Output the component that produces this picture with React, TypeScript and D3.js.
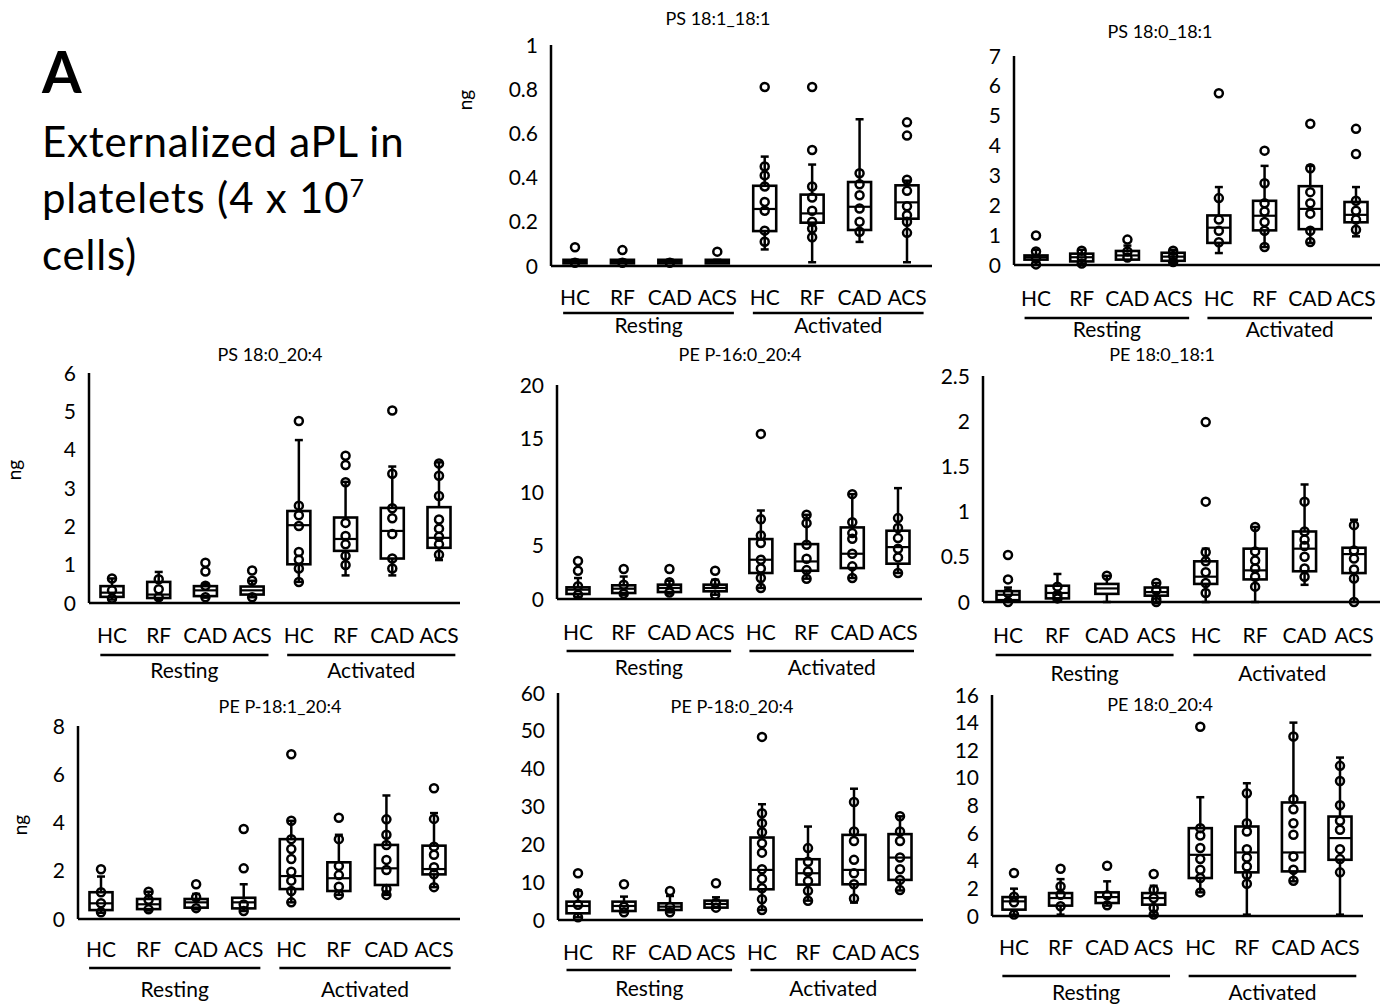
import React from "react";
import * as d3 from "d3";

const categories = ["HC", "RF", "CAD", "ACS"];
const groups = ["Resting", "Activated"];
const slots = groups.flatMap((g) => categories.map((c) => g + "-" + c));

// [low whisker, q1, median, q3, high whisker] per slot, then the plotted dots
const ps181_181Box = [
  [0.015, 0.012, 0.02, 0.028, 0.028], [0.015, 0.012, 0.02, 0.028, 0.028],
  [0.015, 0.012, 0.02, 0.028, 0.028], [0.015, 0.012, 0.02, 0.028, 0.028],
  [0.075, 0.158, 0.258, 0.363, 0.495], [0.017, 0.196, 0.238, 0.323, 0.459],
  [0.109, 0.163, 0.268, 0.38, 0.664], [0.017, 0.214, 0.288, 0.365, 0.386],
];
const ps181_181Pts = [
  [0.085, 0.015], [0.072, 0.015], [0.015], [0.065],
  [0.81, 0.45, 0.41, 0.36, 0.29, 0.25, 0.16, 0.11],
  [0.81, 0.525, 0.36, 0.31, 0.25, 0.2, 0.17, 0.13],
  [0.42, 0.37, 0.32, 0.26, 0.2, 0.155],
  [0.65, 0.59, 0.39, 0.34, 0.27, 0.23, 0.2, 0.15],
];

const ps180_181Box = [
  [0.0, 0.18, 0.26, 0.32, 0.51], [0.03, 0.12, 0.26, 0.38, 0.51],
  [0.18, 0.18, 0.32, 0.47, 0.65], [0.07, 0.14, 0.28, 0.41, 0.51],
  [0.4, 0.74, 1.25, 1.66, 2.61], [0.6, 1.16, 1.65, 2.15, 3.32],
  [0.74, 1.2, 1.88, 2.64, 3.32], [0.96, 1.43, 1.68, 2.11, 2.61],
];
const ps180_181Pts = [
  [0.99, 0.45, 0.22, 0.02], [0.48, 0.25, 0.05], [0.85, 0.45, 0.25], [0.48, 0.3, 0.1],
  [5.75, 2.24, 1.52, 1.15, 0.76],
  [3.83, 2.74, 2.07, 1.79, 1.44, 1.15, 0.6],
  [4.73, 3.24, 2.44, 2.07, 1.72, 1.15, 0.77],
  [4.56, 3.72, 2.15, 1.82, 1.52, 1.18],
];

const ps180_204Box = [
  [0.09, 0.16, 0.27, 0.44, 0.64], [0.09, 0.13, 0.22, 0.55, 0.81],
  [0.14, 0.18, 0.33, 0.44, 0.5], [0.15, 0.22, 0.33, 0.43, 0.58],
  [0.55, 1.01, 2.03, 2.4, 4.25], [0.72, 1.36, 1.67, 2.23, 3.16],
  [0.72, 1.16, 1.88, 2.48, 3.56], [1.12, 1.44, 1.7, 2.5, 3.67],
];
const ps180_204Pts = [
  [0.64, 0.33, 0.12], [0.62, 0.36, 0.15], [1.05, 0.82, 0.45, 0.15], [0.85, 0.58, 0.15],
  [4.75, 2.54, 2.29, 2.01, 1.33, 1.13, 0.9, 0.55],
  [3.84, 3.6, 3.15, 2.09, 1.75, 1.53, 1.23, 0.99],
  [5.02, 3.37, 2.47, 2.21, 1.8, 1.16, 0.9],
  [3.64, 3.32, 2.79, 2.18, 1.94, 1.73, 1.53, 1.26],
];

const peP160_204Box = [
  [0.2, 0.47, 0.87, 1.09, 1.96], [0.4, 0.56, 0.96, 1.28, 2.1],
  [0.5, 0.65, 1.03, 1.34, 1.71], [0.4, 0.72, 1.03, 1.34, 1.8],
  [1.03, 2.43, 3.67, 5.6, 8.27], [1.9, 2.64, 3.51, 5.13, 7.87],
  [1.96, 2.89, 4.23, 6.69, 9.8], [2.43, 3.3, 4.85, 6.38, 10.36],
];
const peP160_204Pts = [
  [3.55, 2.64, 1.2, 0.4], [2.8, 1.34, 0.5], [2.8, 1.56, 0.6], [2.64, 1.5, 0.4],
  [15.43, 7.46, 5.94, 5.23, 3.67, 2.86, 1.96, 1.03],
  [7.87, 7.09, 5.07, 3.76, 2.7, 1.9],
  [9.8, 7.18, 6.16, 5.63, 4.23, 3.05, 1.96],
  [7.56, 6.63, 5.69, 4.7, 3.89, 2.43],
];

const pe180_181Box = [
  [0.0, 0.02, 0.08, 0.12, 0.16], [0.02, 0.04, 0.1, 0.18, 0.31],
  [0.0, 0.09, 0.15, 0.2, 0.29], [0.0, 0.07, 0.11, 0.16, 0.21],
  [0.0, 0.2, 0.28, 0.45, 0.59], [0.0, 0.25, 0.35, 0.59, 0.83],
  [0.19, 0.34, 0.59, 0.78, 1.3], [0.0, 0.32, 0.53, 0.6, 0.91],
];
const pe180_181Pts = [
  [0.52, 0.25, 0.1, 0.0], [0.17, 0.08, 0.04], [0.29], [0.21, 0.13, 0.03, 0.0],
  [1.99, 1.11, 0.55, 0.45, 0.33, 0.21, 0.1],
  [0.83, 0.56, 0.46, 0.37, 0.28, 0.17],
  [1.11, 0.78, 0.69, 0.62, 0.5, 0.37, 0.28],
  [0.85, 0.57, 0.48, 0.36, 0.26, 0.0],
];

const peP181_204Box = [
  [0.26, 0.37, 0.65, 1.11, 1.76], [0.35, 0.41, 0.61, 0.83, 1.13],
  [0.4, 0.47, 0.69, 0.83, 1.04], [0.33, 0.44, 0.69, 0.88, 1.44],
  [0.69, 1.24, 1.78, 3.31, 4.07], [1.0, 1.16, 1.69, 2.35, 3.49],
  [1.0, 1.41, 2.1, 3.07, 5.12], [1.32, 1.85, 2.07, 3.04, 4.39],
];
const peP181_204Pts = [
  [2.06, 1.11, 0.65, 0.28], [1.13, 0.8, 0.4], [1.44, 0.9, 0.45], [3.73, 2.1, 0.6, 0.33],
  [6.83, 4.07, 3.31, 2.9, 2.49, 1.96, 1.59, 1.16, 0.69],
  [4.2, 3.31, 2.2, 1.82, 1.34, 1.0],
  [4.13, 3.49, 3.07, 2.45, 2.03, 1.24, 1.0],
  [5.42, 4.15, 3.0, 2.66, 2.15, 1.85, 1.32],
];

const peP180_204Box = [
  [0.71, 1.77, 3.71, 4.85, 7.77], [2.03, 2.38, 3.71, 4.85, 6.18],
  [2.03, 2.65, 3.53, 4.41, 6.35], [3.27, 3.27, 4.24, 5.12, 6.0],
  [2.65, 8.12, 13.24, 21.8, 30.6], [5.12, 9.36, 12.36, 16.06, 24.7],
  [4.6, 9.44, 13.24, 22.5, 34.7], [7.8, 10.6, 16.5, 22.7, 27.4],
];
const peP180_204Pts = [
  [12.36, 7.06, 4.0, 0.71], [9.44, 3.5, 2.03], [7.68, 3.5, 2.03], [9.71, 4.5, 3.27],
  [48.4, 28.2, 25.6, 23.2, 20.3, 17.8, 13.4, 10.9, 8.4, 5.5, 2.65],
  [19.0, 15.4, 12.8, 10.3, 7.7, 5.1],
  [31.2, 23.4, 20.9, 15.9, 12.36, 9.44, 5.7],
  [27.4, 23.4, 20.9, 16.5, 13.4, 10.6, 7.9],
];

const pe180_204Box = [
  [0.1, 0.46, 1.06, 1.37, 1.98], [0.1, 0.75, 1.3, 1.66, 2.67],
  [0.75, 0.94, 1.37, 1.71, 2.51], [0.1, 0.82, 1.3, 1.66, 2.19],
  [1.71, 2.75, 4.43, 6.36, 8.6], [0.1, 3.16, 4.6, 6.48, 9.61],
  [2.51, 3.23, 4.6, 8.22, 14.0], [0.1, 4.07, 5.64, 7.2, 11.47],
];
const pe180_204Pts = [
  [3.11, 1.4, 1.0, 0.1], [3.42, 2.14, 1.54, 0.7], [3.64, 1.5, 0.77], [3.04, 1.9, 1.3, 0.58, 0.1],
  [13.7, 6.36, 5.83, 4.92, 4.12, 3.35, 2.75, 1.71],
  [8.89, 6.72, 6.12, 4.84, 4.24, 3.59, 2.99, 2.34],
  [12.99, 8.46, 7.73, 6.72, 5.88, 4.31, 3.35, 2.55],
  [10.87, 9.78, 8.02, 6.89, 6.24, 4.84, 4.12, 3.16],
];

const titles = [
  "PS 18:1_18:1", "PS 18:0_18:1", "PS 18:0_20:4", "PE P-16:0_20:4",
  "PE 18:0_18:1", "PE P-18:1_20:4", "PE P-18:0_20:4", "PE 18:0_20:4",
];
const yTicks = [
  [0, 0.2, 0.4, 0.6, 0.8, 1],
  [0, 1, 2, 3, 4, 5, 6, 7],
  [0, 1, 2, 3, 4, 5, 6],
  [0, 5, 10, 15, 20],
  [0, 0.5, 1, 1.5, 2, 2.5],
  [0, 2, 4, 6, 8],
  [0, 10, 20, 30, 40, 50, 60],
  [0, 2, 4, 6, 8, 10, 12, 14, 16],
];
const boxes = [ps181_181Box, ps180_181Box, ps180_204Box, peP160_204Box, pe180_181Box, peP181_204Box, peP180_204Box, pe180_204Box];
const dots = [ps181_181Pts, ps180_181Pts, ps180_204Pts, peP160_204Pts, pe180_181Pts, peP181_204Pts, peP180_204Pts, pe180_204Pts];

// where each panel sits on the page
const layout = [
  { ax: 551, c0: 575, c7: 907, right: 932, y0: 266, yTop: 45, tx: 718, ty: 25, lab: 305, line: 313, grp: 333, ng: [472, 100] },
  { ax: 1014, c0: 1036, c7: 1356, right: 1380, y0: 265, yTop: 56, tx: 1160, ty: 38, lab: 306, line: 318, grp: 337 },
  { ax: 89, c0: 112, c7: 439, right: 460, y0: 603, yTop: 373, tx: 270, ty: 361, lab: 643, line: 655, grp: 678, ng: [21, 470] },
  { ax: 557, c0: 578, c7: 898, right: 922, y0: 599, yTop: 385, tx: 740, ty: 361, lab: 640, line: 651, grp: 675 },
  { ax: 983, c0: 1008, c7: 1354, right: 1380, y0: 602, yTop: 376, tx: 1162, ty: 361, lab: 643, line: 655, grp: 681 },
  { ax: 78, c0: 101, c7: 434, right: 460, y0: 919, yTop: 726, tx: 280, ty: 713, lab: 957, line: 968, grp: 997, ng: [27, 825] },
  { ax: 558, c0: 578, c7: 900, right: 923, y0: 920, yTop: 693, tx: 732, ty: 713, lab: 960, line: 970, grp: 996 },
  { ax: 992, c0: 1014, c7: 1340, right: 1363, y0: 916, yTop: 695, tx: 1160, ty: 711, lab: 955, line: 976, grp: 1000 },
];

const FONT = "Lato, 'Open Sans', sans-serif";
const fmt = (v: number) => String(+v.toFixed(2));

function Panel({ i }: { i: number }) {
  const L = layout[i];
  const ticks = yTicks[i];
  const y = d3.scaleLinear().domain([0, ticks[ticks.length - 1]]).range([L.y0, L.yTop]);
  const x = d3.scalePoint<string>().domain(slots).range([L.c0, L.c7]);
  const step = x.step();
  const bw = 23;
  const cap = 4;

  return (
    <g>
      <text x={L.tx} y={L.ty} textAnchor="middle" fontSize={18} fontFamily={FONT}>{titles[i]}</text>
      {L.ng && (
        <text transform={`translate(${L.ng[0]},${L.ng[1]}) rotate(-90)`} textAnchor="middle" fontSize={19} fontFamily={FONT}>ng</text>
      )}
      {ticks.map((t) => (
        <text key={t} x={L.ax - 13} y={y(t)} dy="0.36em" textAnchor="end" fontSize={21} fontFamily={FONT}>{fmt(t)}</text>
      ))}
      {slots.map((s, k) => {
        const [lo, q1, med, q3, hi] = boxes[i][k];
        const cx = x(s) as number;
        return (
          <g key={s} stroke="#000" fill="none">
            <line x1={cx} x2={cx} y1={y(hi)} y2={y(q3)} strokeWidth={2.5} />
            <line x1={cx} x2={cx} y1={y(q1)} y2={y(lo)} strokeWidth={2.5} />
            <line x1={cx - cap} x2={cx + cap} y1={y(hi)} y2={y(hi)} strokeWidth={2.5} />
            <line x1={cx - cap} x2={cx + cap} y1={y(lo)} y2={y(lo)} strokeWidth={2.5} />
            <rect x={cx - bw / 2} width={bw} y={y(q3)} height={Math.max(0.5, y(q1) - y(q3))} fill="#fff" strokeWidth={2.6} />
            <line x1={cx - bw / 2} x2={cx + bw / 2} y1={y(med)} y2={y(med)} strokeWidth={2.2} />
            {dots[i][k].map((v, j) => (
              <circle key={j} cx={cx} cy={y(v)} r={4} strokeWidth={2.5} />
            ))}
          </g>
        );
      })}
      <line x1={L.ax} x2={L.ax} y1={L.yTop} y2={L.y0} stroke="#000" strokeWidth={2.5} />
      <line x1={L.ax} x2={L.right} y1={L.y0} y2={L.y0} stroke="#000" strokeWidth={2.5} />
      {slots.map((s, k) => (
        <text key={s} x={x(s)} y={L.lab} textAnchor="middle" fontSize={21} fontFamily={FONT}>{categories[k % 4]}</text>
      ))}
      {groups.map((g, gi) => {
        const a = (x(slots[gi * 4]) as number) - step * 0.25;
        const b = (x(slots[gi * 4 + 3]) as number) + step * 0.35;
        return (
          <g key={g}>
            <line x1={a} x2={b} y1={L.line} y2={L.line} stroke="#000" strokeWidth={2.5} />
            <text x={(a + b) / 2} y={L.grp} textAnchor="middle" fontSize={21} fontFamily={FONT}>{g}</text>
          </g>
        );
      })}
    </g>
  );
}

export default function App() {
  return (
    <svg width={1392} height={1006} style={{ position: "absolute", left: 0, top: 0, background: "#fff" }}>
      <rect width={1392} height={1006} fill="#fff" />
      <text x={42} y={93} fontSize={57} fontWeight="bold" fontFamily={FONT}>A</text>
      <g fontSize={42} fontFamily={FONT} letterSpacing={0.8}>
        <text x={42} y={157}>Externalized aPL in</text>
        <text x={42} y={213}>
          platelets (4 x 10<tspan fontSize={25} dy={-16}>7</tspan>
        </text>
        <text x={42} y={270}>cells)</text>
      </g>
      {layout.map((_, i) => (
        <Panel key={i} i={i} />
      ))}
    </svg>
  );
}
